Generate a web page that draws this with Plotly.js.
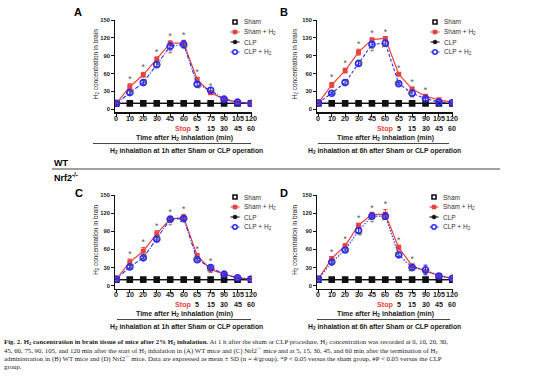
<!DOCTYPE html>
<html><head><meta charset="utf-8">
<script src="https://cdn.plot.ly/plotly-3.0.1.min.js"></script>
<style>html,body{margin:0;padding:0;background:#fff}#chart{width:554px;height:384px}</style>
</head><body><div id="chart"></div>
<script>
// ---------- data ----------
const cats = ["0","10","20","30","45","60","65","75","90","105","120"];
const afterStop = ["","","","","","Stop","5","15","30","45","60"];
const legendNames = ["Sham","Sham + H<sub>2</sub>","CLP","CLP + H<sub>2</sub>"];

const shamA = [10,10,10,10,10,10,10,10,10,10,10];
const clpA  = [10,10,10,10,10,10,10,10,10,10,10];
const shamH2A = [10,38,58,84,111,111,50,28,17,12,10];
const shamH2A_sd = [2,5,4,4,4,5,4,3,2,1,1];
const clpH2A = [10,28,45,75,106,109,42,32,17,12,10];
const clpH2A_sd = [2,3,3,4,4,6,3,4,2,1,1];

const shamB = [10,10,10,10,10,10,10,10,10,10,10];
const clpB  = [10,10,10,10,10,10,10,10,10,10,10];
const shamH2B = [11,41,65,96,117,119,59,34,22,16,12];
const shamH2B_sd = [1,4,4,5,2,2,2,3,2,1,1];
const clpH2B = [11,27,45,77,109,111,43,27,18,12,11];
const clpH2B_sd = [1,2,4,4,3,5,2,6,3,1,1];

const shamC = [10,10,10,10,10,10,10,10,10,10,10];
const clpC  = [10,10,10,10,10,10,10,10,10,10,10];
const shamH2C = [11,39,57,86,110,113,50,27,19,13,11];
const shamH2C_sd = [1,5,6,5,3,5,3,5,2,1,1];
const clpH2C = [11,31,46,77,110,111,43,30,19,13,11];
const clpH2C_sd = [1,3,2,3,3,3,2,3,2,1,1];

const shamD = [10,10,10,10,10,10,10,10,10,10,10];
const clpD  = [10,10,10,10,10,10,10,10,10,10,10];
const shamH2D = [11,45,66,100,118,118,63,33,24,17,12];
const shamH2D_sd = [1,3,3,3,2,8,4,2,2,2,1];
const clpH2D = [11,39,59,91,115,115,51,30,26,16,12];
const clpH2D_sd = [1,2,2,4,2,3,3,3,8,2,1];

// significance marks (indices into cats)
const starA = [1,2,3,4,5,6,7];
const hashA = [1,2,3,4,5,6];
const starB = [1,2,3,4,5,6,7,8];
const hashB = [1,2,3,4,5,6,7];
const starC = [1,2,3,4,5,6,7];
const hashC = [1,2,3,4,5,6,7];
const starD = [1,2,3,4,5,6,7];
const hashD = [1,2,3,4,5,6,7];

const captionLines = [
 "<b>Fig. 2. H<sub>2</sub> concentration in brain tissue of mice after 2% H<sub>2</sub> inhalation.</b> At 1 h after the sham or CLP procedure, H<sub>2</sub> concentration was recorded at 0, 10, 20, 30,",
 "45, 60, 75, 90, 105, and 120 min after the start of H<sub>2</sub> inhalation in (A) WT mice and (C) Nrf2<sup>-/-</sup> mice and at 5, 15, 30, 45, and 60 min after the termination of H<sub>2</sub>",
 "administration in (B) WT mice and (D) Nrf2<sup>-/-</sup> mice. Data are expressed as mean ± SD (n = 4/group). *P < 0.05 versus the sham group, #P < 0.05 versus the CLP",
 "group."
];

// ---------- layout helpers ----------
const W = 554, H = 384;
const px = v => v / W, py = v => 1 - v / H;
const RED = '#e8433c', BLUE = '#2b2bf2', BLK = '#111';
const SANS = 'Liberation Sans, Arial, sans-serif';
const SIDE_POS = {r:'middle right', rb:'bottom right', l:'middle left', lb:'bottom left', b:'bottom center'};

const panels = [
  {id:'', letter:'A', x0:115, x1:251.7, yTop:20, yBot:112.3, sham:shamA, clp:clpA, sh:shamH2A, shsd:shamH2A_sd, ch:clpH2A, chsd:clpH2A_sd, stars:starA, hashes:hashA,
   hashSide:{1:'r',2:'r',3:'r',4:'b',5:'rb',6:'rb'}, dash:'4px,1.5px,1px,1.5px', leg:[235,22], lx:[78,12], ytl:96,
   bottom:"H<sub>2</sub> inhalation at 1h after Sham or CLP operation", tline:[93,251], tcx:184, bcx:186, base:0},
  {id:'2', letter:'B', x0:317, x1:453, yTop:20, yBot:112.3, sham:shamB, clp:clpB, sh:shamH2B, shsd:shamH2B_sd, ch:clpH2B, chsd:clpH2B_sd, stars:starB, hashes:hashB,
   hashSide:{1:'r',2:'r',3:'r',4:'b',5:'lb',6:'l',7:'l'}, dash:'3px,2px', leg:[435,22], lx:[284,12], ytl:295,
   bottom:"H<sub>2</sub> inhalation at 6h after Sham or CLP operation", tline:[318,449], tcx:385, bcx:384, base:0},
  {id:'3', letter:'C', x0:115, x1:251.7, yTop:195, yBot:288.7, sham:shamC, clp:clpC, sh:shamH2C, shsd:shamH2C_sd, ch:clpH2C, chsd:clpH2C_sd, stars:starC, hashes:hashC,
   hashSide:{1:'r',2:'r',3:'r',4:'b',5:'lb',6:'l',7:'lb'}, dash:'4px,1.5px,1px,1.5px', leg:[235,197], lx:[79,193], ytl:96,
   bottom:"H<sub>2</sub> inhalation at 1h after Sham or CLP operation", tline:[117,251], tcx:184, bcx:186, base:176},
  {id:'4', letter:'D', x0:317, x1:453, yTop:195, yBot:288.7, sham:shamD, clp:clpD, sh:shamH2D, shsd:shamH2D_sd, ch:clpH2D, chsd:clpH2D_sd, stars:starD, hashes:hashD,
   hashSide:{1:'r',2:'r',3:'rb',4:'b',5:'lb',6:'l',7:'lb'}, dash:'1.5px,1.5px', leg:[434,197], lx:[284,193], ytl:295,
   bottom:"H<sub>2</sub> inhalation at 6h after Sham or CLP operation", tline:[317,450], tcx:385, bcx:384, base:176}
];

const data = [], annotations = [], shapes = [];
const layout = {
  width: W, height: H, margin: {l:0, r:0, t:0, b:0},
  paper_bgcolor: '#fff', plot_bgcolor: 'rgba(0,0,0,0)', showlegend: false,
  annotations, shapes
};

panels.forEach(p => {
  const xa = 'x' + p.id, ya = 'y' + p.id;
  layout['xaxis' + p.id] = {
    type: 'category', domain: [px(p.x0), px(p.x1)], anchor: ya, range: [-0.1, 10.05],
    tickmode: 'array', tickvals: cats, showticklabels: false,
    showline: true, linecolor: BLK, linewidth: 1.3, ticks: 'outside', ticklen: 3, tickwidth: 1, tickcolor: BLK,
    showgrid: false, zeroline: false, fixedrange: true
  };
  layout['yaxis' + p.id] = {
    domain: [py(p.yBot), py(p.yTop)], anchor: xa, range: [-5, 150],
    tickmode: 'array', tickvals: [0,30,60,90,120,150],
    showline: true, linecolor: BLK, linewidth: 1.3, ticks: 'outside', ticklen: 2.5, tickwidth: 1, tickcolor: BLK,
    showgrid: false, zeroline: false,
    tickfont: {family: SANS, size: 5.8, color: '#222', weight: 'bold'}, fixedrange: true
  };
  // black baseline groups
  data.push({type:'scatter', mode:'lines+markers', x:cats, y:p.clp, xaxis:xa, yaxis:ya,
    line:{color:BLK, width:1.2}, marker:{symbol:'square', size:5, color:BLK}});
  data.push({type:'scatter', mode:'lines+markers', x:cats, y:p.sham, xaxis:xa, yaxis:ya,
    line:{color:BLK, width:1.2}, marker:{symbol:'square-open', size:5, color:BLK, line:{width:1.6}}});
  // Sham + H2
  data.push({type:'scatter', mode:'lines+markers', x:cats, y:p.sh, xaxis:xa, yaxis:ya,
    line:{color:RED, width:1.2}, marker:{symbol:'square', size:5, color:RED},
    error_y:{type:'data', array:p.shsd, color:RED, thickness:1, width:2}});
  // CLP + H2
  data.push({type:'scatter', mode:'lines+markers', x:cats, y:p.ch, xaxis:xa, yaxis:ya,
    line:{color:BLUE, width:1.1, dash:p.dash}, marker:{symbol:'circle-open', size:6, color:BLUE, line:{width:1.7}},
    error_y:{type:'data', array:p.chsd, color:BLUE, thickness:1, width:2}});

  // significance marks as text traces
  data.push({type:'scatter', mode:'text', xaxis:xa, yaxis:ya, cliponaxis:false, hoverinfo:'skip',
    x:p.stars.map(i => cats[i]), y:p.stars.map(i => p.sh[i] + p.shsd[i]),
    text:p.stars.map(() => '*'), textposition:'top center',
    textfont:{family:SANS, size:8.5, color:'#555'}});
  data.push({type:'scatter', mode:'text', xaxis:xa, yaxis:ya, cliponaxis:false, hoverinfo:'skip',
    x:p.hashes.map(i => cats[i]),
    y:p.hashes.map(i => (p.hashSide[i] === 'b' ? p.ch[i] - p.chsd[i] - 1 : p.ch[i])),
    text:p.hashes.map(() => '#'), textposition:p.hashes.map(i => SIDE_POS[p.hashSide[i] || 'r']),
    textfont:{family:SANS, size:6.5, color:'#555'}});

  // tick label rows (time since start / minutes after stop)
  cats.forEach((t, i) => {
    annotations.push({xref:xa, yref:'paper', x:i, y:py(118.5 + p.base), text:t, showarrow:false,
      xanchor:'center', yanchor:'middle', font:{family:SANS, size:7.2, color:'#1a1a1a', weight:'bold'}});
    const s = afterStop[i];
    if (!s) return;
    const isStop = s === 'Stop';
    annotations.push({xref:xa, yref:'paper', x:i, y:py(128.5 + p.base), text:s, showarrow:false,
      xanchor:'center', yanchor:'middle', font:{family:SANS, size:7.2, color: isStop ? RED : '#1a1a1a', weight:'bold'}});
  });

  // panel letter
  annotations.push({xref:'paper', yref:'paper', x:px(p.lx[0]), y:py(p.lx[1]), text:'<b>' + p.letter + '</b>',
    showarrow:false, xanchor:'center', yanchor:'middle', font:{family:SANS, size:11, color:'#000'}});
  // y title
  annotations.push({xref:'paper', yref:'paper', x:px(p.ytl), y:py((p.yTop + p.yBot) / 2 - 2), textangle:-90,
    text:'H<sub>2</sub> concentration in brain', showarrow:false, xanchor:'center', yanchor:'middle',
    font:{family:SANS, size:6.4, color:'#222'}});
  // x titles
  annotations.push({xref:'paper', yref:'paper', x:px(p.tcx), y:py(137.5 + p.base),
    text:'Time after H<sub>2</sub> inhalation (min)', showarrow:false, xanchor:'center', yanchor:'middle',
    font:{family:SANS, size:7, color:'#1a1a1a', weight:'bold'}});
  shapes.push({type:'line', xref:'paper', yref:'paper', x0:px(p.tline[0]), x1:px(p.tline[1]),
    y0:py(143.5 + p.base), y1:py(143.5 + p.base), line:{color:'#333', width:0.9}});
  annotations.push({xref:'paper', yref:'paper', x:px(p.bcx), y:py(151 + p.base),
    text:p.bottom, showarrow:false, xanchor:'center', yanchor:'middle',
    font:{family:SANS, size:6.8, color:'#1a1a1a', weight:'bold'}});

  // custom legend
  const [lx, ly] = p.leg;
  legendNames.forEach((nm, k) => {
    const yy = ly + 10 * k;
    annotations.push({xref:'paper', yref:'paper', x:px(lx + 7), y:py(yy), text:nm, showarrow:false,
      xanchor:'left', yanchor:'middle', font:{family:SANS, size:6.5, color:'#333'}});
  });
  const sq = (cx, cy, r, fill, col, w) => shapes.push({type:'rect', xref:'paper', yref:'paper',
    x0:px(cx - r), x1:px(cx + r), y0:py(cy + r), y1:py(cy - r), fillcolor:fill, line:{color:col, width:w}});
  const ln = (cx, cy, col, dash) => shapes.push({type:'line', xref:'paper', yref:'paper',
    x0:px(cx - 4.5), x1:px(cx + 4.5), y0:py(cy), y1:py(cy), line:{color:col, width:1.1, dash:dash || 'solid'}});
  sq(lx, ly, 2, '#fff', BLK, 1.6);
  ln(lx, ly + 10, RED); sq(lx, ly + 10, 2, RED, RED, 0.5);
  ln(lx, ly + 20, BLK);
  shapes.push({type:'circle', xref:'paper', yref:'paper', x0:px(lx - 2), x1:px(lx + 2), y0:py(ly + 22), y1:py(ly + 18),
    fillcolor:BLK, line:{color:BLK, width:0.5}});
  ln(lx, ly + 30, BLUE, 'dot');
  shapes.push({type:'circle', xref:'paper', yref:'paper', x0:px(lx - 2.2), x1:px(lx + 2.2), y0:py(ly + 32.2), y1:py(ly + 27.8),
    fillcolor:'#fff', line:{color:BLUE, width:1.5}});
});

// WT / Nrf2 divider
annotations.push({xref:'paper', yref:'paper', x:px(52), y:py(163), text:'<b>WT</b>', showarrow:false,
  xanchor:'left', yanchor:'middle', font:{family:SANS, size:9, color:'#000'}});
shapes.push({type:'line', xref:'paper', yref:'paper', x0:px(52), x1:px(500), y0:py(169), y1:py(169),
  line:{color:'#444', width:1.2}});
annotations.push({xref:'paper', yref:'paper', x:px(52), y:py(177), text:'<b>Nrf2<sup>-/-</sup></b>', showarrow:false,
  xanchor:'left', yanchor:'middle', font:{family:SANS, size:9, color:'#000'}});

// caption
captionLines.forEach((t, k) => {
  annotations.push({xref:'paper', yref:'paper', x:px(2), y:py(342 + 8 * k), text:t, showarrow:false,
    xanchor:'left', yanchor:'middle', font:{family:'Liberation Serif, DejaVu Serif, serif', size:6.8, color:'#222'}});
});

Plotly.newPlot('chart', data, layout, {displayModeBar:false, staticPlot:true});
</script></body></html>
